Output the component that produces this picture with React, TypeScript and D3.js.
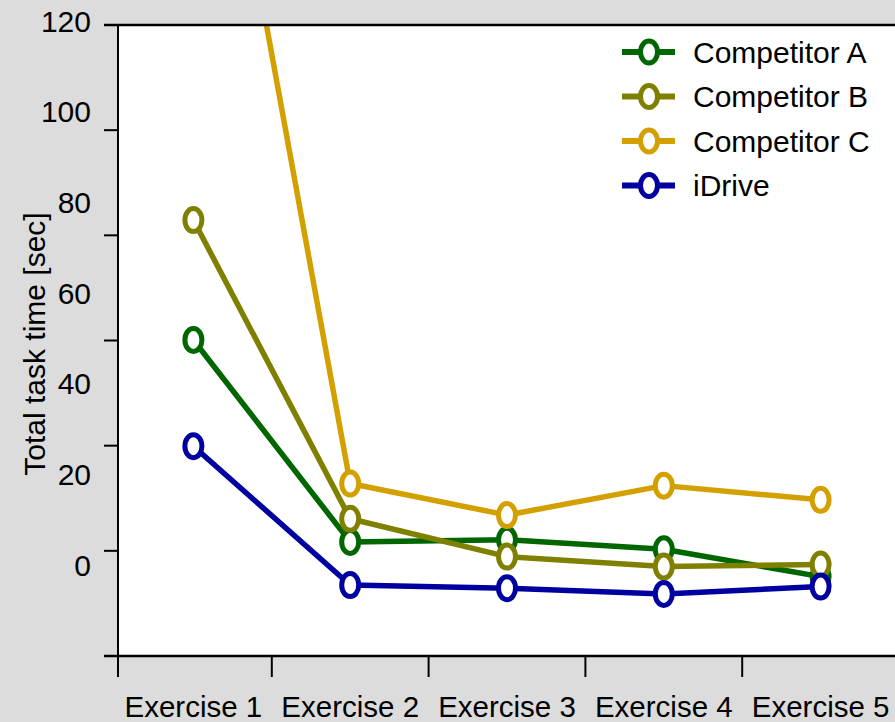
import React from "react";
import * as d3 from "d3";

const categories = ["Exercise 1", "Exercise 2", "Exercise 3", "Exercise 4", "Exercise 5"];
const seriesNames = ["Competitor A", "Competitor B", "Competitor C", "iDrive"];
const competitorA = [60.1, 21.7, 22.1, 20.3, 15.1];
const competitorB = [82.9, 26.1, 18.9, 17.0, 17.4];
const competitorC = [196, 32.8, 26.8, 32.4, 29.7];
const iDrive = [39.9, 13.5, 12.9, 11.8, 13.2];
const seriesColors = ["#006600", "#808000", "#D4A000", "#0000A0"];
const yTicks = [0, 20, 40, 60, 80, 100, 120];

const W = 895;
const H = 722;
const left = 118;
const top = 25;
const bottom = 656;
const FONT = "'Liberation Sans', Arial, sans-serif";

export default function App() {
  const series = [competitorA, competitorB, competitorC, iDrive];
  const x = d3.scaleBand<string>().domain(categories).range([115, 899]);
  const y = d3.scaleLinear().domain([0, 120]).range([bottom, top]);
  const yLab = d3.scaleLinear().domain([0, 120]).range([575.7, 31.7]);
  const cx = (c: string) => (x(c) as number) + x.bandwidth() / 2;
  const line = d3
    .line<number>()
    .x((_, i) => cx(categories[i]))
    .y((v) => y(v));
  const boundaries = categories.slice(1).map((c) => x(c) as number);

  return (
    <svg
      width={W}
      height={H}
      style={{ position: "absolute", left: 0, top: 0, fontFamily: FONT }}
    >
      <defs>
        <clipPath id="plotclip">
          <rect x={left} y={top} width={W - left} height={bottom - top} />
        </clipPath>
      </defs>
      <rect x={0} y={0} width={W} height={H} fill="#DCDCDC" />
      <rect x={left} y={top} width={W - left} height={bottom - top} fill="#ffffff" />

      <g clipPath="url(#plotclip)">
        {series.map((s, si) => (
          <path
            key={"l" + si}
            d={line(s) || ""}
            fill="none"
            stroke={seriesColors[si]}
            strokeWidth={5.5}
            strokeLinejoin="round"
          />
        ))}
        {series.map((s, si) =>
          s.map((v, i) => (
            <ellipse
              key={"m" + si + "-" + i}
              cx={cx(categories[i])}
              cy={y(v)}
              rx={8.5}
              ry={11.5}
              fill="#ffffff"
              stroke={seriesColors[si]}
              strokeWidth={5}
            />
          ))
        )}
      </g>

      {/* axes */}
      <line x1={104} x2={W} y1={top} y2={top} stroke="#000" strokeWidth={2.5} />
      <line x1={104} x2={W} y1={bottom} y2={bottom} stroke="#000" strokeWidth={2.5} />
      <line x1={left} x2={left} y1={top} y2={bottom + 21} stroke="#000" strokeWidth={2} />
      {yTicks.map((t) => (
        <line key={"yt" + t} x1={104} x2={left} y1={y(t)} y2={y(t)} stroke="#000" strokeWidth={2} />
      ))}
      {yTicks.map((t) => (
        <text key={"yl" + t} x={91} y={yLab(t)} textAnchor="end" fontSize={30} fill="#000">
          {t}
        </text>
      ))}
      {boundaries.map((b, i) => (
        <line key={"xt" + i} x1={b} x2={b} y1={bottom} y2={bottom + 21} stroke="#000" strokeWidth={2} />
      ))}
      {categories.map((c) => (
        <text key={"xl" + c} x={cx(c)} y={717} textAnchor="middle" fontSize={29.5} fill="#000">
          {c}
        </text>
      ))}
      <text
        transform={`translate(44.5, 344) rotate(-90)`}
        textAnchor="middle"
        fontSize={30}
        fill="#000"
      >
        Total task time [sec]
      </text>

      {/* legend */}
      {seriesNames.map((n, i) => {
        const ly = 52 + i * 44.5;
        return (
          <g key={"lg" + n}>
            <line x1={622} x2={675} y1={ly} y2={ly} stroke={seriesColors[i]} strokeWidth={6} />
            <ellipse cx={649} cy={ly} rx={8.5} ry={11} fill="#fff" stroke={seriesColors[i]} strokeWidth={5} />
            <text x={693} y={ly} dy="0.36em" fontSize={30} fill="#000">
              {n}
            </text>
          </g>
        );
      })}
    </svg>
  );
}
